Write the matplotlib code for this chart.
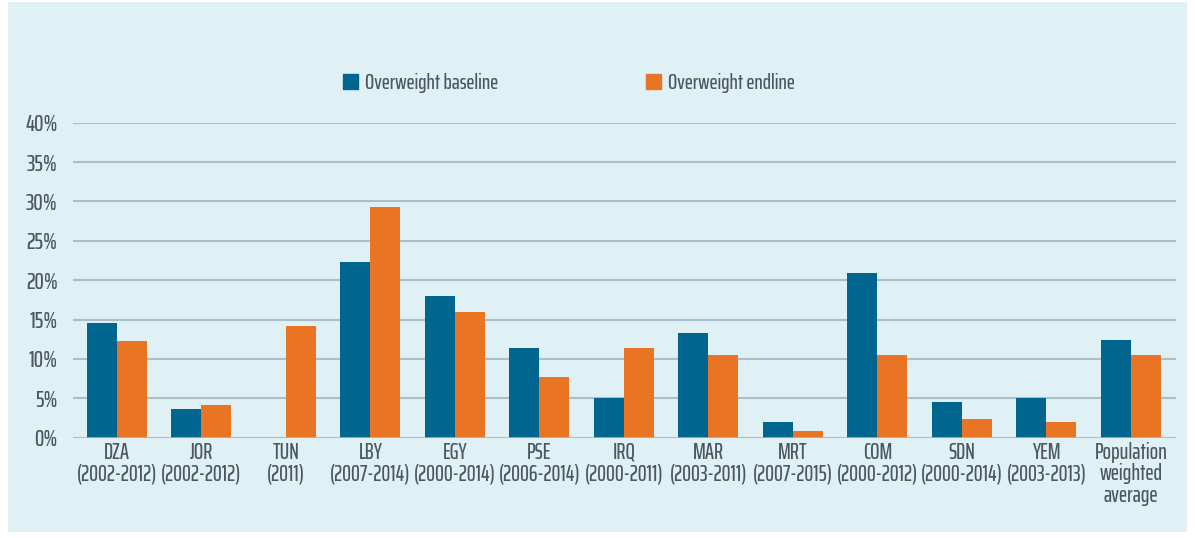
import numpy as np
import matplotlib
matplotlib.use("Agg")
import matplotlib.pyplot as plt
from matplotlib.patches import Rectangle, Patch

plt.rcParams['font.family'] = ['Saira ExtraCondensed', 'Barlow Condensed', 'DejaVu Sans']
plt.rcParams['font.weight'] = 500

# data (percent)
countries = ["DZA\n(2002-2012)", "JOR\n(2002-2012)", "TUN\n(2011)", "LBY\n(2007-2014)",
             "EGY\n(2000-2014)", "PSE\n(2006-2014)", "IRQ\n(2000-2011)", "MAR\n(2003-2011)",
             "MRT\n(2007-2015)", "COM\n(2000-2012)", "SDN\n(2000-2014)", "YEM\n(2003-2013)",
             "Population\nweighted\naverage"]
baseline = [14.6, 3.7, np.nan, 22.3, 18.0, 11.4, 5.0, 13.3, 2.0, 20.9, 4.5, 5.0, 12.4]
endline = [12.3, 4.1, 14.2, 29.3, 15.9, 7.7, 11.4, 10.5, 0.8, 10.5, 2.4, 2.0, 10.5]
yticks = [0, 5, 10, 15, 20, 25, 30, 35, 40]

c_base = "#00658f"
c_end = "#e87424"
bg = "#e0f1f5"
grid_c = "#a9bfcc"
txt_c = "#4b5863"

fig = plt.figure(figsize=(11.95, 5.38), dpi=100, facecolor="white")
# light blue panel behind everything
fig.patches.append(Rectangle((8 / 1195, 6 / 538), 1179 / 1195, 530 / 538,
                             transform=fig.transFigure, facecolor=bg,
                             edgecolor="none", zorder=-1))

ax = fig.add_axes([73 / 1195, 1 - 437.7 / 538, 1102.7 / 1195, 315 / 538])
ax.set_facecolor("none")

x = np.arange(len(countries))
w = 0.355
ax.bar(x - w / 2, baseline, w, color=c_base, zorder=3)
ax.bar(x + w / 2, endline, w, color=c_end, zorder=3)

ax.set_xlim(-0.52, len(countries) - 1 + 0.53)
ax.set_ylim(0, 40)
ax.set_yticks(yticks)
ax.set_yticklabels([f"{t}%" for t in yticks])
ax.set_xticks(x)
ax.set_xticklabels(countries, linespacing=1.02)

for s in ax.spines.values():
    s.set_visible(False)
ax.grid(axis="y", color=grid_c, linewidth=1.5, zorder=1)
ax.axhline(0, color=grid_c, linewidth=1.8, zorder=4)
ax.tick_params(axis="y", length=0, pad=11, labelsize=17, labelcolor=txt_c)
ax.tick_params(axis="x", length=0, pad=3, labelsize=16, labelcolor=txt_c)

# two legend entries, each anchored where the reference puts it
leg_kw = dict(loc="center left", bbox_transform=fig.transFigure, frameon=False,
              fontsize=15.5, handlelength=0.68, handleheight=0.68, handletextpad=0.35,
              borderpad=0, borderaxespad=0)
leg1 = ax.legend(handles=[Patch(color=c_base, label="Overweight baseline")],
                 bbox_to_anchor=(343 / 1195, 1 - 83 / 538), **leg_kw)
ax.add_artist(leg1)
leg2 = ax.legend(handles=[Patch(color=c_end, label="Overweight endline")],
                 bbox_to_anchor=(646 / 1195, 1 - 83 / 538), **leg_kw)
for lg in (leg1, leg2):
    for t in lg.get_texts():
        t.set_color(txt_c)

fig.savefig("out.png", dpi=100, facecolor="white")
